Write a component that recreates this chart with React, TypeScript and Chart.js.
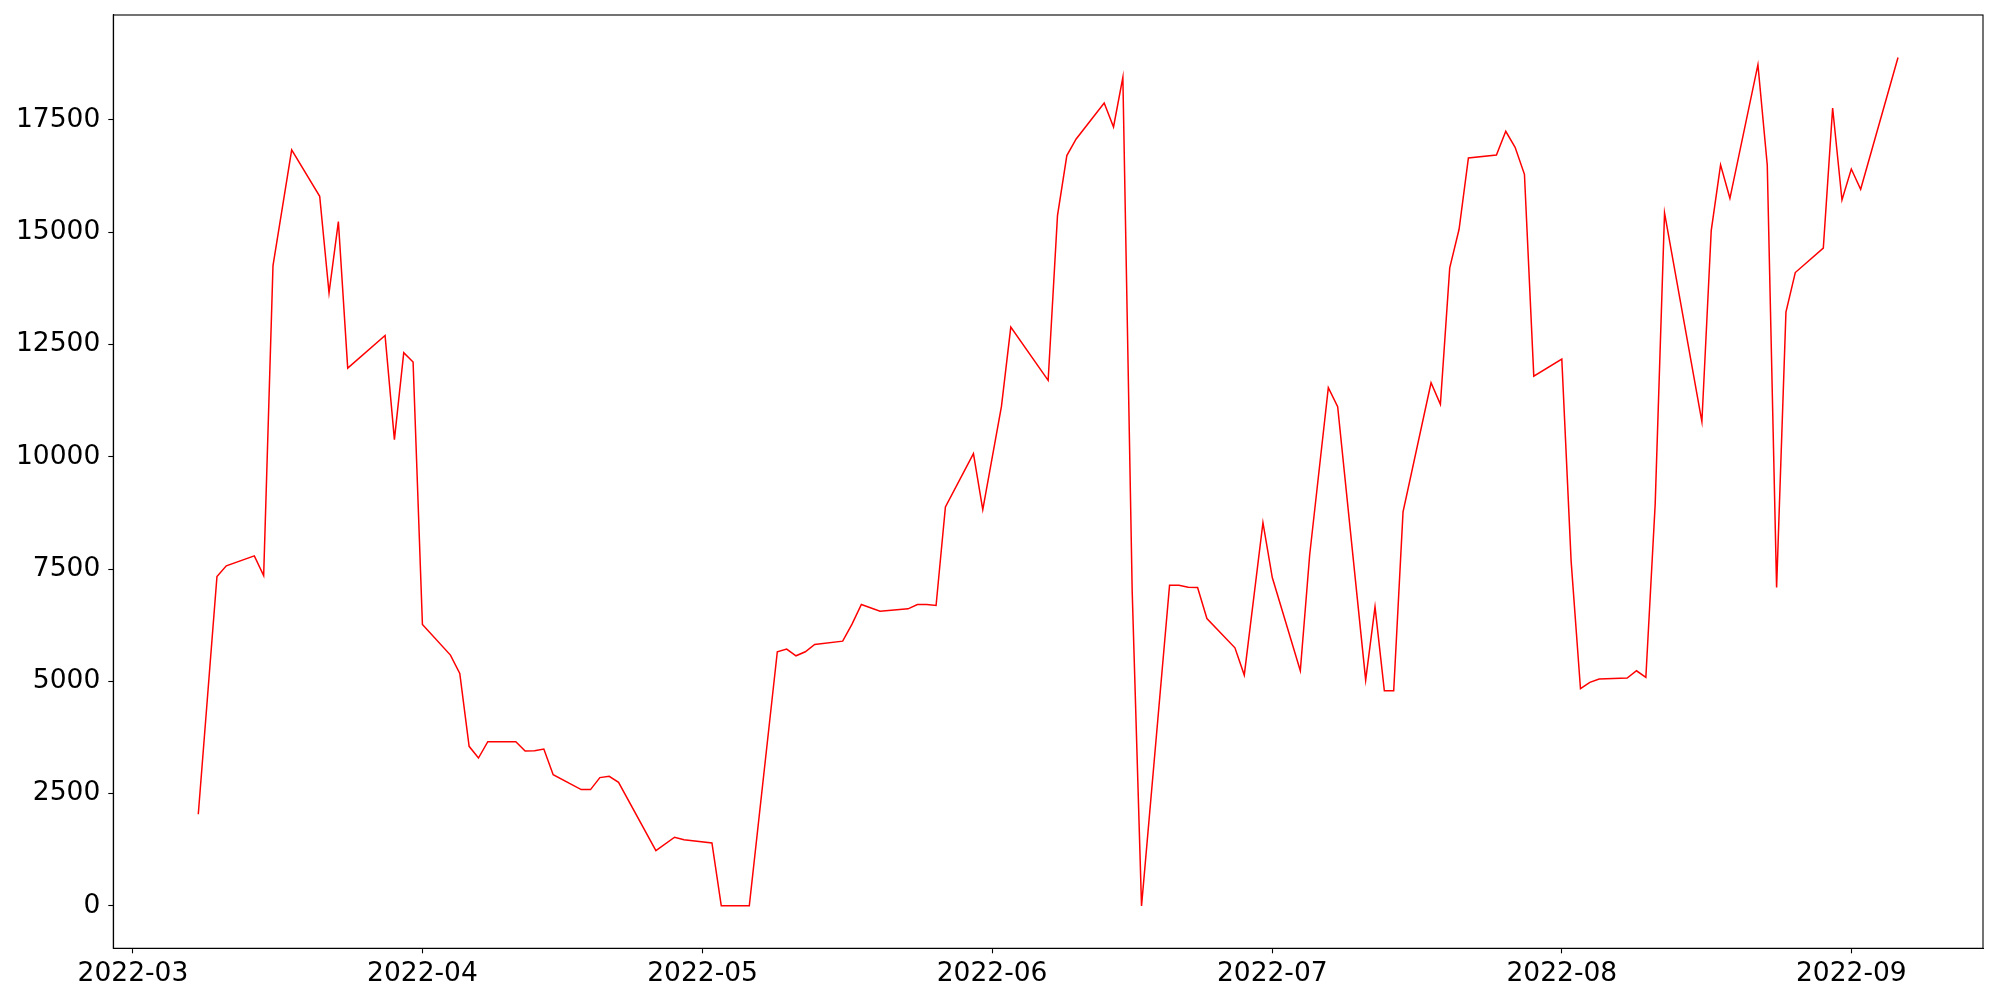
import React, { useEffect, useRef } from "react";
import { Chart, registerables } from "chart.js";

Chart.register(...registerables);

const dates: string[] = [
  "2022-03-08", "2022-03-10", "2022-03-11", "2022-03-14", "2022-03-15", "2022-03-16", "2022-03-18",
  "2022-03-21", "2022-03-22", "2022-03-23", "2022-03-24", "2022-03-28", "2022-03-29", "2022-03-30",
  "2022-03-31", "2022-04-01", "2022-04-04", "2022-04-05", "2022-04-06", "2022-04-07", "2022-04-08",
  "2022-04-11", "2022-04-12", "2022-04-13", "2022-04-14", "2022-04-15", "2022-04-18", "2022-04-19",
  "2022-04-20", "2022-04-21", "2022-04-22", "2022-04-26", "2022-04-28", "2022-04-29", "2022-05-02",
  "2022-05-03", "2022-05-06", "2022-05-09", "2022-05-10", "2022-05-11", "2022-05-12", "2022-05-13",
  "2022-05-16", "2022-05-17", "2022-05-18", "2022-05-20", "2022-05-23", "2022-05-24", "2022-05-25",
  "2022-05-26", "2022-05-27", "2022-05-30", "2022-05-31", "2022-06-02", "2022-06-03", "2022-06-07",
  "2022-06-08", "2022-06-09", "2022-06-10", "2022-06-13", "2022-06-14", "2022-06-15", "2022-06-16",
  "2022-06-17", "2022-06-20", "2022-06-21", "2022-06-22", "2022-06-23", "2022-06-24", "2022-06-27",
  "2022-06-28", "2022-06-30", "2022-07-01", "2022-07-04", "2022-07-05", "2022-07-07", "2022-07-08",
  "2022-07-11", "2022-07-12", "2022-07-13", "2022-07-14", "2022-07-15", "2022-07-18", "2022-07-19",
  "2022-07-20", "2022-07-21", "2022-07-22", "2022-07-25", "2022-07-26", "2022-07-27", "2022-07-28",
  "2022-07-29", "2022-08-01", "2022-08-02", "2022-08-03", "2022-08-04", "2022-08-05", "2022-08-08",
  "2022-08-09", "2022-08-10", "2022-08-11", "2022-08-12", "2022-08-16", "2022-08-17", "2022-08-18",
  "2022-08-19", "2022-08-22", "2022-08-23", "2022-08-24", "2022-08-25", "2022-08-26", "2022-08-29",
  "2022-08-30", "2022-08-31", "2022-09-01", "2022-09-02", "2022-09-06",
];

const values: number[] = [
  2040, 7333, 7570, 7792, 7355, 14257, 16830,
  15799, 13650, 15236, 11973, 12700, 10380, 12315,
  12107, 6265, 5583, 5175, 3552, 3292, 3655,
  3655, 3447, 3455, 3492, 2921, 2588, 2588,
  2855, 2884, 2750, 1231, 1528, 1470, 1401,
  0, 0, 5657, 5716, 5568, 5657, 5820,
  5894, 6272, 6710, 6561, 6613, 6710, 6710,
  6688, 8881, 10068, 8823, 11120, 12886, 11699,
  15369, 16704, 17075, 17876, 17342, 18446, 7000,
  0, 7140, 7140, 7095, 7088, 6398, 5745,
  5138, 8534, 7310, 5234, 7807, 11537, 11114,
  5027, 6657, 4789, 4789, 8771, 11647, 11165,
  14205, 15064, 16652, 16719, 17245, 16889, 16288,
  11794, 12173, 7670, 4834, 4975, 5049, 5071,
  5234, 5086, 8950, 15429, 10780, 15036, 16497,
  15754, 18728, 16497, 7088, 13219, 14101, 14643,
  17764, 15717, 16406, 15955, 18890,
];

const monthTicks: string[] = ["2022-03", "2022-04", "2022-05", "2022-06", "2022-07", "2022-08", "2022-09"];
const yTicks: number[] = [0, 2500, 5000, 7500, 10000, 12500, 15000, 17500];

const BASE = Date.UTC(2022, 2, 1);
const toDay = (s: string): number => {
  const parts = s.split("-").map(Number);
  return (Date.UTC(parts[0], parts[1] - 1, parts[2] || 1) - BASE) / 86400000;
};

const framePlugin = {
  id: "frame",
  afterDatasetsDraw(chart: any) {
    const { ctx, chartArea } = chart;
    ctx.save();
    ctx.strokeStyle = "#000";
    ctx.lineWidth = 1.1;
    ctx.strokeRect(chartArea.left, chartArea.top, chartArea.right - chartArea.left, chartArea.bottom - chartArea.top);
    ctx.restore();
  },
};

export default function App() {
  const ref = useRef<HTMLCanvasElement | null>(null);

  useEffect(() => {
    if (!ref.current) return;
    const points = dates.map((d, i) => ({ x: toDay(d), y: values[i] }));
    const tickFont = { family: "DejaVu Sans", size: 26.5 };
    const chart = new Chart(ref.current, {
      type: "line",
      data: {
        datasets: [
          {
            data: points,
            borderColor: "#ff0000",
            borderWidth: 1.5,
            pointRadius: 0,
            tension: 0,
            fill: false,
          },
        ],
      },
      options: {
        animation: false,
        responsive: false,
        devicePixelRatio: 1,
        layout: { padding: { left: 0, right: 17, top: 15, bottom: 0 } },
        plugins: { legend: { display: false }, tooltip: { enabled: false } },
        scales: {
          x: {
            type: "linear",
            min: -2.1,
            max: 198.1,
            afterBuildTicks: (axis: any) => {
              axis.ticks = monthTicks.map((t) => ({ value: toDay(t) }));
            },
            afterFit: (axis: any) => {
              axis.height = 51.7;
              axis.paddingLeft = 0;
              axis.paddingRight = 0;
            },
            ticks: {
              autoSkip: false,
              maxRotation: 0,
              minRotation: 0,
              padding: 5,
              color: "#000",
              font: tickFont,
              callback: (v: any) => {
                const idx = monthTicks.findIndex((t) => toDay(t) === Number(v));
                return idx >= 0 ? monthTicks[idx] : "";
              },
            },
            grid: { drawOnChartArea: false, drawTicks: true, tickLength: 5, tickColor: "#000", tickWidth: 1.1 },
            border: { display: true, color: "#000", width: 1.1 },
          },
          y: {
            type: "linear",
            min: -945,
            max: 19835,
            afterBuildTicks: (axis: any) => {
              axis.ticks = yTicks.map((v) => ({ value: v }));
            },
            afterFit: (axis: any) => {
              axis.width = 113.3;
              axis.paddingTop = 0;
              axis.paddingBottom = 0;
            },
            ticks: {
              padding: 8,
              color: "#000",
              font: tickFont,
              callback: (v: any) => String(v),
            },
            grid: { drawOnChartArea: false, drawTicks: true, tickLength: 5, tickColor: "#000", tickWidth: 1.1 },
            border: { display: true, color: "#000", width: 1.1 },
          },
        },
      },
      plugins: [framePlugin],
    } as any);
    return () => chart.destroy();
  }, []);

  return (
    <div style={{ position: "fixed", left: 0, top: 0, width: 2000, height: 1000, background: "#fff" }}>
      <canvas ref={ref} width={2000} height={1000} style={{ width: 2000, height: 1000, display: "block" }} />
    </div>
  );
}
